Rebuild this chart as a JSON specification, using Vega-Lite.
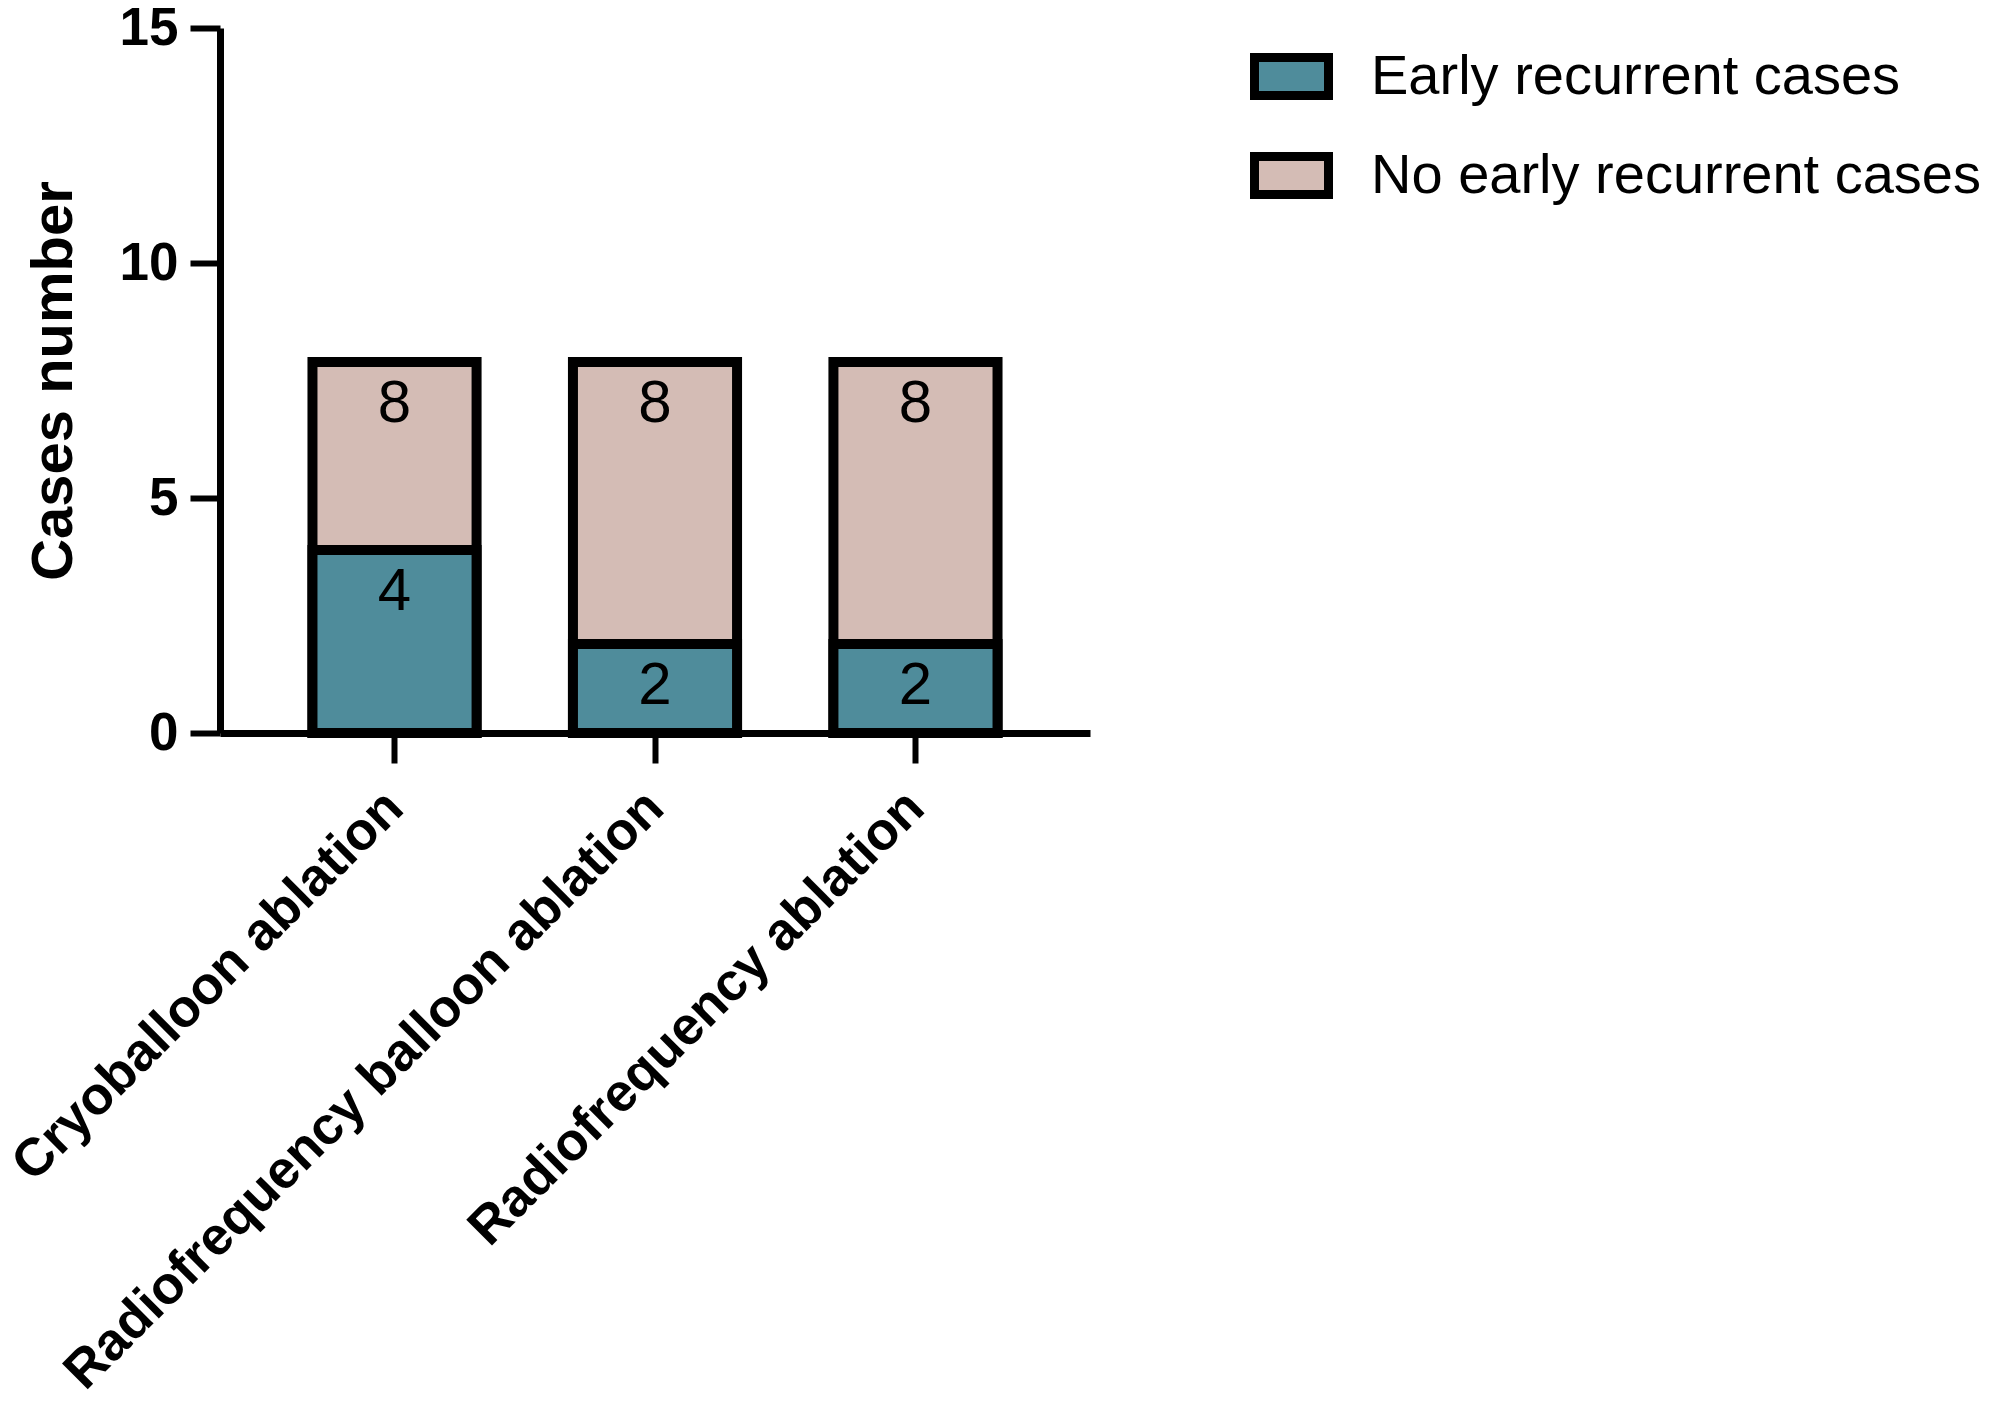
{
  "$schema": "https://vega.github.io/schema/vega-lite/v6.json",
  "autosize": "none",
  "width": 870,
  "height": 705,
  "padding": {"left": 220, "top": 28, "right": 905, "bottom": 675},
  "background": "white",
  "config": {
    "view": {"stroke": null},
    "font": "Liberation Sans",
    "axis": {
      "domainColor": "black",
      "domainWidth": 7,
      "tickColor": "black",
      "tickWidth": 6,
      "tickSize": 30,
      "labelColor": "black",
      "labelFont": "Liberation Sans",
      "labelFontWeight": "bold",
      "labelFontSize": 53,
      "labelLimit": 0,
      "titleFont": "Liberation Sans",
      "titleFontWeight": "bold",
      "titleFontSize": 58,
      "titleColor": "black",
      "grid": false
    }
  },
  "data": {
    "values": [
      {"method": "Cryoballoon ablation", "group": "No early recurrent cases", "cases": 8},
      {"method": "Radiofrequency balloon ablation", "group": "No early recurrent cases", "cases": 8},
      {"method": "Radiofrequency ablation", "group": "No early recurrent cases", "cases": 8},
      {"method": "Cryoballoon ablation", "group": "Early recurrent cases", "cases": 4},
      {"method": "Radiofrequency balloon ablation", "group": "Early recurrent cases", "cases": 2},
      {"method": "Radiofrequency ablation", "group": "Early recurrent cases", "cases": 2}
    ]
  },
  "encoding": {
    "x": {
      "field": "method",
      "type": "nominal",
      "sort": null,
      "scale": {"paddingInner": 0.37, "paddingOuter": 0.355},
      "axis": {"title": null, "labelAngle": -45, "labelAlign": "right", "labelBaseline": "middle", "labelPadding": 36, "labelFontSize": 53}
    },
    "y": {
      "field": "cases",
      "type": "quantitative",
      "stack": null,
      "scale": {"domain": [0, 15], "nice": false},
      "axis": {"title": "Cases number", "values": [0, 5, 10, 15], "labelPadding": 12, "titlePadding": 36}
    }
  },
  "layer": [
    {
      "mark": {"type": "bar", "stroke": "black", "strokeWidth": 10, "yOffset": 5, "opacity": 1},
      "encoding": {
        "color": {
          "field": "group",
          "type": "nominal",
          "scale": {
            "domain": ["Early recurrent cases", "No early recurrent cases"],
            "range": ["#4f8c9b", "#d4bcb5"]
          },
          "legend": {
            "title": null,
            "orient": "none",
            "legendX": 1030,
            "legendY": 7,
            "padding": 0,
            "symbolType": "M-1,-0.514H1V0.514H-1Z",
            "symbolSize": 5476,
            "symbolStrokeColor": "black",
            "symbolStrokeWidth": 9,
            "symbolOpacity": 1,
            "labelFont": "Liberation Sans",
            "labelFontSize": 56,
            "labelColor": "black",
            "labelOffset": 38,
            "rowPadding": 20,
            "labelLimit": 1000
          }
        }
      }
    },
    {
      "mark": {"type": "text", "font": "Liberation Sans", "fontSize": 60, "color": "black", "baseline": "middle", "dy": 47},
      "encoding": {"text": {"field": "cases", "type": "quantitative"}}
    }
  ]
}
